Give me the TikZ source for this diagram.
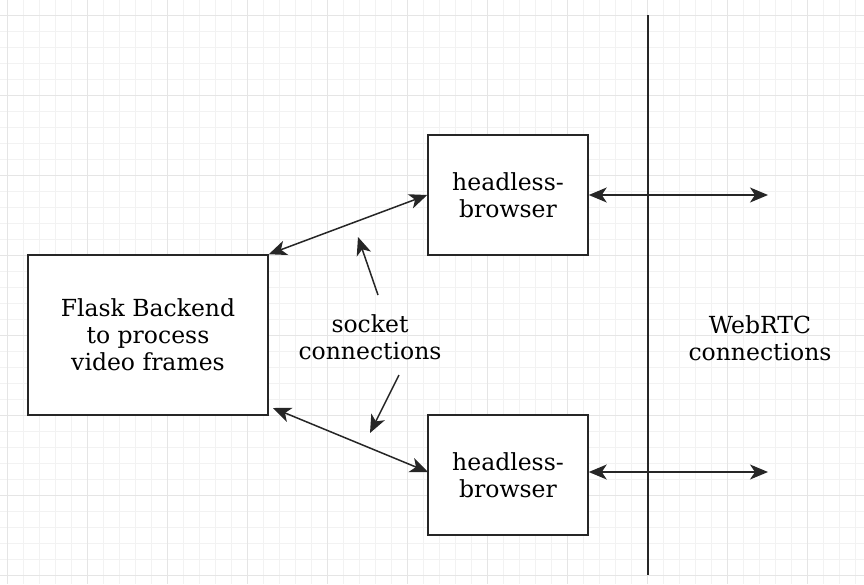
\documentclass[tikz,border=0pt]{standalone}
\usepackage{fontspec}
\setmainfont{DejaVu Serif}
\usetikzlibrary{arrows.meta}
\begin{document}
\begin{tikzpicture}[x=1pt,y=-1pt,
  box/.style={draw=black!85,line width=1.5pt,fill=white,inner sep=0pt,align=center,font=\fontsize{23.5}{27}\selectfont},
  lbl/.style={align=center,font=\fontsize{23.5}{27}\selectfont},
  conn/.style={line width=1.5pt,draw=black!85,{Stealth[length=18pt,width=15pt,inset=5pt]}-{Stealth[length=18pt,width=15pt,inset=5pt]}},
  pt/.style={line width=1.5pt,draw=black!85,-{Stealth[length=18pt,width=15pt,inset=5pt]}}]
\useasboundingbox (0,0) rectangle (864,584);
\fill[white] (0,0) rectangle (864,584);
% minor grid
\foreach \x in {-9,7,...,864} \draw[black!5,line width=0.8pt] (\x,0) -- (\x,584);
\foreach \y in {-1,15,...,584} \draw[black!5,line width=0.8pt] (0,\y) -- (864,\y);
% major grid
\foreach \x in {7,87,...,864} \draw[black!10,line width=1pt] (\x,0) -- (\x,584);
\foreach \y in {15,95,...,584} \draw[black!10,line width=1pt] (0,\y) -- (864,\y);
% nodes
\node[box,minimum width=240pt,minimum height=160pt] (flask) at (148,335) {Flask Backend\\to process\\video frames};
\node[box,minimum width=160pt,minimum height=120pt] (hb1) at (508,195) {headless-\\browser};
\node[box,minimum width=160pt,minimum height=120pt] (hb2) at (508,475) {headless-\\browser};
\node[lbl] (sock) at (370,337) {socket\\connections};
\node[lbl] (webrtc) at (760,338) {WebRTC\\connections};
\coordinate (vtop) at (648,15);
\coordinate (vbot) at (648,575);
\draw[line width=1.5pt,draw=black!85] (vtop) -- (vbot);
\coordinate (r1) at (768,195);
\coordinate (r2) at (768,472);
\coordinate (fse) at (273,408);
\coordinate (h2w) at (428,472);
\draw[conn] (hb1.west) -- (flask.north east);
\draw[conn] (h2w) -- (fse);
\draw[conn] (hb1.east) -- (r1);
\draw[conn] (hb2.east |- h2w) -- (r2);
\coordinate (s1t) at (378,295);
\coordinate (s1h) at (358,237);
\coordinate (s2t) at (399,375);
\coordinate (s2h) at (370,433);
\draw[pt] (s1t) -- (s1h);
\draw[pt] (s2t) -- (s2h);
\end{tikzpicture}
\end{document}
